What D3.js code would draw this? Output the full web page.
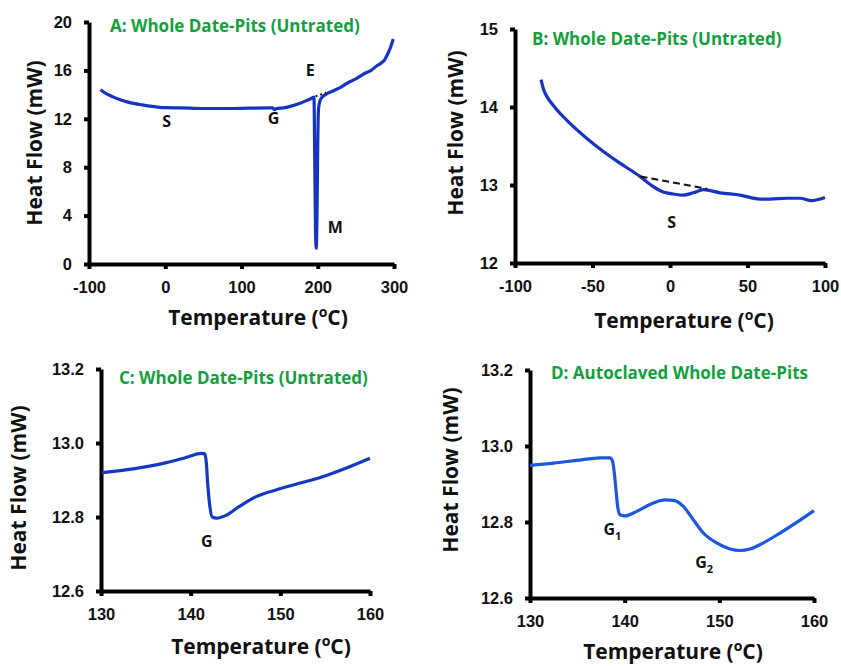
<!DOCTYPE html>
<html>
<head>
<meta charset="utf-8">
<script src="https://cdn.jsdelivr.net/npm/d3@7"></script>
<style>
  body { margin: 0; background: #fff; }
  svg { display: block; font-family: "Open Sans", "DejaVu Sans", sans-serif; }
</style>
</head>
<body>
<div id="chart"></div>
<script>
// panel A: full scan
var aTemp = [-85, -78, -70, -60, -50, -40, -30, -20, -10, 0, 20, 50, 80, 110, 135, 141, 143, 146, 155, 165, 175, 185, 192, 195, 196, 197, 198, 199, 200, 201, 203, 206, 210, 220, 230, 240, 250, 260, 270, 278, 283, 288, 292, 296, 299];
var aHeat = [14.4, 14.1, 13.85, 13.6, 13.4, 13.25, 13.15, 13.05, 12.97, 12.92, 12.9, 12.85, 12.85, 12.88, 12.9, 12.9, 12.75, 12.85, 12.9, 13.05, 13.25, 13.5, 13.7, 13.8, 9, 3, 1.3, 4, 10, 12.8, 13.5, 13.8, 14.0, 14.3, 14.6, 15.0, 15.3, 15.7, 16.0, 16.4, 16.6, 16.9, 17.4, 18.0, 18.6];
var aEdgeT = [197, 211];
var aEdgeH = [13.85, 14.15];
var aXTicks = [-100, 0, 100, 200, 300];
var aYTicks = [0, 4, 8, 12, 16, 20];

// panel B: sub-ambient zoom
var bTemp = [-83.2, -81.5, -79, -75.3, -64.5, -53.8, -43.0, -32.3, -19.4, -10.8, -4.3, 2.1, 8.6, 15.0, 21.5, 32.3, 45.2, 58.1, 64.5, 75.3, 83.9, 91.4, 96.8, 100];
var bHeat = [14.35, 14.22, 14.12, 14.02, 13.79, 13.6, 13.43, 13.28, 13.11, 12.98, 12.91, 12.885, 12.87, 12.9, 12.94, 12.9, 12.87, 12.82, 12.82, 12.83, 12.83, 12.8, 12.82, 12.84];
var bTangentT = [-19, 24];
var bTangentH = [13.11, 12.95];
var bXTicks = [-100, -50, 0, 50, 100];
var bYTicks = [12, 13, 14, 15];

// panel C: glass transition, untreated
var cTemp = [130.1, 133.6, 137.3, 139.5, 141.2, 141.6, 141.75, 141.9, 142.1, 142.4, 142.9, 144.0, 145.4, 147.3, 149.5, 152.1, 154.7, 157.3, 160];
var cHeat = [12.92, 12.93, 12.947, 12.961, 12.972, 12.97, 12.945, 12.89, 12.837, 12.80, 12.797, 12.805, 12.828, 12.855, 12.873, 12.891, 12.909, 12.932, 12.959];

// panel D: autoclaved
var dTemp = [130, 132.5, 134.9, 137.4, 138.45, 138.73, 138.91, 139.08, 139.26, 139.51, 140.04, 141.27, 143.03, 144.26, 145.14, 146.2, 147.25, 148.31, 149.72, 151.13, 152.18, 153.24, 154.65, 156.41, 158.17, 160];
var dHeat = [12.949, 12.955, 12.962, 12.969, 12.969, 12.959, 12.928, 12.885, 12.841, 12.819, 12.816, 12.828, 12.85, 12.858, 12.857, 12.841, 12.806, 12.771, 12.745, 12.729, 12.725, 12.729, 12.745, 12.771, 12.799, 12.83];
var cdXTicks = [130, 140, 150, 160];
var cdYTicks = [12.6, 12.8, 13.0, 13.2];

var panelTitles = ["A: Whole Date-Pits (Untrated)", "B: Whole Date-Pits (Untrated)", "C: Whole Date-Pits (Untrated)", "D: Autoclaved Whole Date-Pits"];

var svg = d3.select("#chart").append("svg")
    .attr("width", 841)
    .attr("height", 666);

// plain hyphen for negatives, like the original
var intFmt = function (d) { return String(d); };
var oneDec = function (d) { return d.toFixed(1); };

// draws one DSC panel; box = plot area in page pixels
function drawPanel(p) {
    var x = d3.scaleLinear().domain(p.xDomain).range([p.box.left, p.box.right]);
    var y = d3.scaleLinear().domain(p.yDomain).range([p.box.bottom, p.box.top]);
    var g = svg.append("g");

    var xAxis = g.append("g")
        .attr("transform", "translate(0," + p.box.bottom + ")")
        .call(d3.axisBottom(x).tickValues(p.xTicks).tickSize(5).tickSizeOuter(0).tickPadding(12).tickFormat(intFmt));
    var yAxis = g.append("g")
        .attr("transform", "translate(" + p.box.left + ",0)")
        .call(d3.axisLeft(y).tickValues(p.yTicks).tickSize(5).tickSizeOuter(0).tickPadding(12).tickFormat(p.yFormat));
    [xAxis, yAxis].forEach(function (ax) {
        ax.select(".domain").attr("stroke", "#000").attr("stroke-width", 4);
        ax.selectAll(".tick line").attr("stroke", "#000").attr("stroke-width", 4);
        ax.selectAll(".tick text")
            .attr("fill", "#111")
            .style("font-size", "16.5px")
            .style("font-weight", 600);
    });

    // curve
    var line = d3.line()
        .x(function (d, i) { return x(p.temp[i]); })
        .y(function (d) { return y(d); })
        .curve(d3.curveMonotoneX);
    g.append("path")
        .datum(p.heat)
        .attr("fill", "none")
        .attr("stroke", p.color)
        .attr("stroke-width", 3.2)
        .attr("stroke-linejoin", "round")
        .attr("d", line);

    // tangent / baseline marks
    if (p.dash) {
        g.append("path")
            .datum(p.dash.h)
            .attr("fill", "none")
            .attr("stroke", "#111")
            .attr("stroke-width", p.dash.width)
            .attr("stroke-dasharray", p.dash.pattern)
            .attr("d", d3.line()
                .x(function (d, i) { return x(p.dash.t[i]); })
                .y(function (d) { return y(d); }));
    }

    // panel title
    g.append("text")
        .attr("x", p.titlePos[0])
        .attr("y", p.titlePos[1])
        .attr("fill", "#12a03c")
        .style("font-size", "17px")
        .style("font-weight", 700)
        .text(p.title);

    // axis titles
    g.append("text")
        .attr("transform", "translate(" + p.yTitlePos[0] + "," + p.yTitlePos[1] + ") rotate(-90)")
        .attr("text-anchor", "middle")
        .attr("fill", "#111")
        .style("font-size", "21px")
        .style("font-weight", 700)
        .text("Heat Flow (mW)");

    var xt = g.append("text")
        .attr("x", p.xTitlePos[0])
        .attr("y", p.xTitlePos[1])
        .attr("text-anchor", "middle")
        .attr("fill", "#111")
        .style("font-size", "21px")
        .style("font-weight", 700);
    xt.append("tspan").text("Temperature (");
    xt.append("tspan").attr("dy", -8).style("font-size", "14px").text("o");
    xt.append("tspan").attr("dy", 8).text("C)");

    // point labels (S, G, E, M ...)
    p.labels.forEach(function (l) {
        var t = g.append("text")
            .attr("x", x(l.t))
            .attr("y", y(l.h))
            .attr("text-anchor", "middle")
            .attr("fill", "#111")
            .style("font-size", "16px")
            .style("font-weight", 700)
            .text(l.text);
        if (l.sub) {
            t.append("tspan").attr("dy", 5).style("font-size", "11px").text(l.sub);
        }
    });
}

drawPanel({
    xDomain: [-100, 300], yDomain: [0, 20],
    box: { left: 89, right: 394, top: 22, bottom: 264 },
    xTicks: aXTicks, yTicks: aYTicks, yFormat: intFmt,
    temp: aTemp, heat: aHeat, color: "#1733c2",
    dash: { t: aEdgeT, h: aEdgeH, width: 2, pattern: "2,3" },
    title: panelTitles[0], titlePos: [110, 32],
    yTitlePos: [42, 143], xTitlePos: [258, 325],
    labels: [
        { t: 2, h: 11.3, text: "S" },
        { t: 142, h: 11.6, text: "G" },
        { t: 190, h: 15.5, text: "E" },
        { t: 223, h: 2.6, text: "M" }
    ]
});

drawPanel({
    xDomain: [-100, 100], yDomain: [12, 15],
    box: { left: 515, right: 825, top: 29, bottom: 263 },
    xTicks: bXTicks, yTicks: bYTicks, yFormat: intFmt,
    temp: bTemp, heat: bHeat, color: "#1733c2",
    dash: { t: bTangentT, h: bTangentH, width: 2, pattern: "7,4" },
    title: panelTitles[1], titlePos: [532, 45],
    yTitlePos: [463, 133], xTitlePos: [684, 328],
    labels: [
        { t: 1, h: 12.45, text: "S" }
    ]
});

drawPanel({
    xDomain: [130, 160], yDomain: [12.6, 13.2],
    box: { left: 101, right: 370, top: 369, bottom: 591 },
    xTicks: cdXTicks, yTicks: cdYTicks, yFormat: oneDec,
    temp: cTemp, heat: cHeat, color: "#1538c4",
    title: panelTitles[2], titlePos: [119, 384],
    yTitlePos: [26, 488], xTitlePos: [261, 654],
    labels: [
        { t: 141.8, h: 12.72, text: "G" }
    ]
});

drawPanel({
    xDomain: [130, 160], yDomain: [12.6, 13.2],
    box: { left: 530, right: 814, top: 370, bottom: 598 },
    xTicks: cdXTicks, yTicks: cdYTicks, yFormat: oneDec,
    temp: dTemp, heat: dHeat, color: "#1c57de",
    title: panelTitles[3], titlePos: [551, 379],
    yTitlePos: [458, 470], xTitlePos: [673, 659],
    labels: [
        { t: 138.7, h: 12.765, text: "G", sub: "1" },
        { t: 148.4, h: 12.68, text: "G", sub: "2" }
    ]
});
</script>
</body>
</html>
